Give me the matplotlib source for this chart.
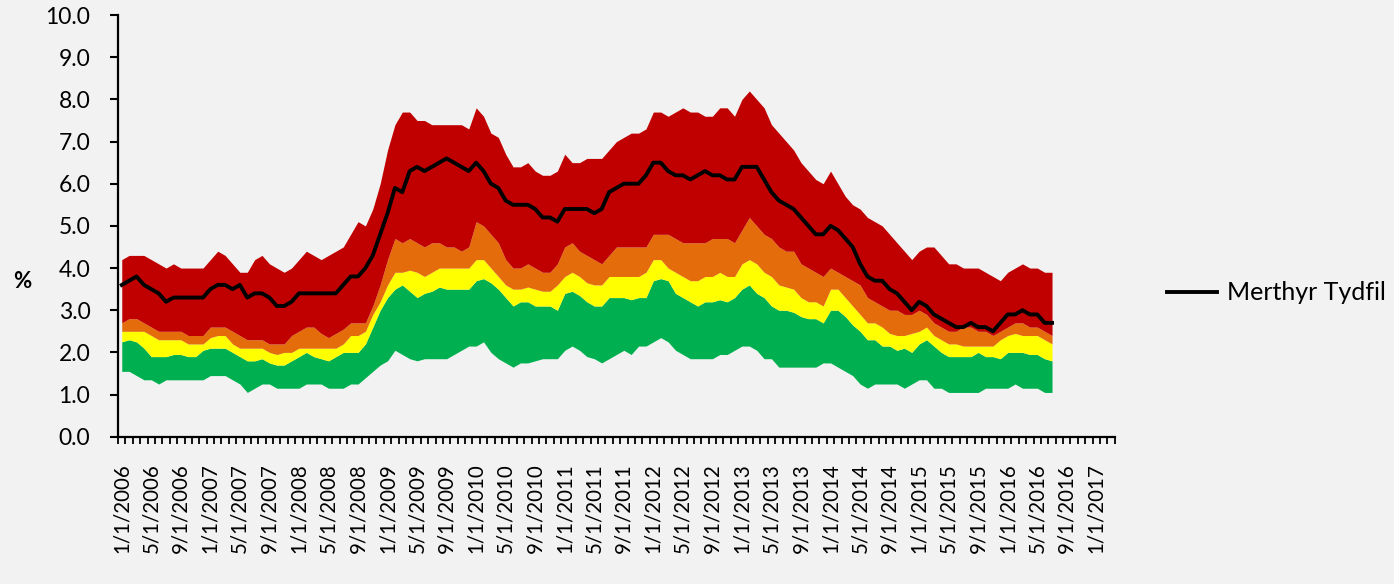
import matplotlib
matplotlib.use("Agg")
import matplotlib.pyplot as plt
import pandas as pd

plt.rcParams['font.family'] = ['Lato', 'DejaVu Sans']

# Monthly values, Jan 2006 - Jul 2016 (%)
merthyr = [3.6, 3.7, 3.8, 3.6, 3.5, 3.4, 3.2, 3.3, 3.3, 3.3, 3.3, 3.3,
           3.5, 3.6, 3.6, 3.5, 3.6, 3.3, 3.4, 3.4, 3.3, 3.1, 3.1, 3.2,
           3.4, 3.4, 3.4, 3.4, 3.4, 3.4, 3.6, 3.8, 3.8, 4.0, 4.3, 4.8,
           5.3, 5.9, 5.8, 6.3, 6.4, 6.3, 6.4, 6.5, 6.6, 6.5, 6.4, 6.3,
           6.5, 6.3, 6.0, 5.9, 5.6, 5.5, 5.5, 5.5, 5.4, 5.2, 5.2, 5.1,
           5.4, 5.4, 5.4, 5.4, 5.3, 5.4, 5.8, 5.9, 6.0, 6.0, 6.0, 6.2,
           6.5, 6.5, 6.3, 6.2, 6.2, 6.1, 6.2, 6.3, 6.2, 6.2, 6.1, 6.1,
           6.4, 6.4, 6.4, 6.1, 5.8, 5.6, 5.5, 5.4, 5.2, 5.0, 4.8, 4.8,
           5.0, 4.9, 4.7, 4.5, 4.1, 3.8, 3.7, 3.7, 3.5, 3.4, 3.2, 3.0,
           3.2, 3.1, 2.9, 2.8, 2.7, 2.6, 2.6, 2.7, 2.6, 2.6, 2.5, 2.7,
           2.9, 2.9, 3.0, 2.9, 2.9, 2.7, 2.7]

band_max = [4.2, 4.3, 4.3, 4.3, 4.2, 4.1, 4.0, 4.1, 4.0, 4.0, 4.0, 4.0,
            4.2, 4.4, 4.3, 4.1, 3.9, 3.9, 4.2, 4.3, 4.1, 4.0, 3.9, 4.0,
            4.2, 4.4, 4.3, 4.2, 4.3, 4.4, 4.5, 4.8, 5.1, 5.0, 5.4, 6.0,
            6.8, 7.4, 7.7, 7.7, 7.5, 7.5, 7.4, 7.4, 7.4, 7.4, 7.4, 7.3,
            7.8, 7.6, 7.2, 7.1, 6.7, 6.4, 6.4, 6.5, 6.3, 6.2, 6.2, 6.3,
            6.7, 6.5, 6.5, 6.6, 6.6, 6.6, 6.8, 7.0, 7.1, 7.2, 7.2, 7.3,
            7.7, 7.7, 7.6, 7.7, 7.8, 7.7, 7.7, 7.6, 7.6, 7.8, 7.8, 7.6,
            8.0, 8.2, 8.0, 7.8, 7.4, 7.2, 7.0, 6.8, 6.5, 6.3, 6.1, 6.0,
            6.3, 6.0, 5.7, 5.5, 5.4, 5.2, 5.1, 5.0, 4.8, 4.6, 4.4, 4.2,
            4.4, 4.5, 4.5, 4.3, 4.1, 4.1, 4.0, 4.0, 4.0, 3.9, 3.8, 3.7,
            3.9, 4.0, 4.1, 4.0, 4.0, 3.9, 3.9]

band_orange = [2.7, 2.8, 2.8, 2.7, 2.6, 2.5, 2.5, 2.5, 2.5, 2.4, 2.4, 2.4,
               2.6, 2.6, 2.6, 2.5, 2.4, 2.3, 2.3, 2.3, 2.2, 2.2, 2.2, 2.4,
               2.5, 2.6, 2.6, 2.45, 2.35, 2.45, 2.55, 2.7, 2.7, 2.7, 3.1, 3.6,
               4.2, 4.7, 4.6, 4.7, 4.6, 4.5, 4.6, 4.6, 4.5, 4.5, 4.4, 4.5,
               5.1, 5.0, 4.8, 4.6, 4.2, 4.0, 4.0, 4.1, 4.0, 3.9, 3.9, 4.1,
               4.5, 4.6, 4.4, 4.3, 4.2, 4.1, 4.3, 4.5, 4.5, 4.5, 4.5, 4.5,
               4.8, 4.8, 4.8, 4.7, 4.6, 4.6, 4.6, 4.6, 4.7, 4.7, 4.7, 4.6,
               4.9, 5.2, 5.0, 4.8, 4.7, 4.5, 4.4, 4.4, 4.1, 4.0, 3.9, 3.8,
               4.0, 3.9, 3.8, 3.7, 3.6, 3.3, 3.2, 3.1, 3.0, 3.0, 2.9, 2.9,
               3.0, 2.9, 2.7, 2.6, 2.5, 2.5, 2.6, 2.6, 2.5, 2.5, 2.4, 2.5,
               2.6, 2.7, 2.7, 2.6, 2.6, 2.5, 2.4]

band_yellow = [2.5, 2.5, 2.5, 2.5, 2.4, 2.3, 2.3, 2.3, 2.3, 2.2, 2.2, 2.2,
               2.35, 2.4, 2.4, 2.2, 2.1, 2.1, 2.1, 2.1, 2.0, 1.95, 2.0, 2.0,
               2.1, 2.1, 2.1, 2.1, 2.1, 2.1, 2.2, 2.4, 2.4, 2.5, 2.9, 3.2,
               3.6, 3.9, 3.9, 3.95, 3.9, 3.8, 3.9, 4.0, 4.0, 4.0, 4.0, 4.0,
               4.2, 4.2, 4.0, 3.8, 3.6, 3.5, 3.5, 3.55, 3.5, 3.45, 3.45, 3.6,
               3.8, 3.9, 3.8, 3.65, 3.6, 3.6, 3.8, 3.8, 3.8, 3.8, 3.8, 3.9,
               4.2, 4.2, 4.0, 3.9, 3.8, 3.7, 3.7, 3.8, 3.8, 3.9, 3.8, 3.8,
               4.1, 4.2, 4.1, 3.9, 3.8, 3.6, 3.55, 3.5, 3.3, 3.2, 3.2, 3.1,
               3.5, 3.5, 3.3, 3.1, 2.9, 2.7, 2.7, 2.6, 2.45, 2.4, 2.4, 2.45,
               2.5, 2.6, 2.4, 2.3, 2.2, 2.2, 2.15, 2.15, 2.15, 2.15, 2.15, 2.3,
               2.4, 2.45, 2.4, 2.4, 2.4, 2.3, 2.2]

band_green = [2.25, 2.3, 2.25, 2.1, 1.9, 1.9, 1.9, 1.95, 1.95, 1.9, 1.9, 2.05,
              2.1, 2.1, 2.1, 2.0, 1.9, 1.8, 1.8, 1.85, 1.75, 1.7, 1.7, 1.8,
              1.9, 2.0, 1.9, 1.85, 1.8, 1.9, 2.0, 2.0, 2.0, 2.2, 2.6, 3.0,
              3.3, 3.5, 3.6, 3.45, 3.3, 3.4, 3.45, 3.55, 3.5, 3.5, 3.5, 3.5,
              3.7, 3.75, 3.65, 3.5, 3.3, 3.1, 3.2, 3.2, 3.1, 3.1, 3.1, 3.0,
              3.4, 3.45, 3.35, 3.2, 3.1, 3.1, 3.3, 3.3, 3.3, 3.25, 3.3, 3.3,
              3.7, 3.75, 3.7, 3.4, 3.3, 3.2, 3.1, 3.2, 3.2, 3.25, 3.2, 3.3,
              3.5, 3.6, 3.4, 3.3, 3.1, 3.0, 3.0, 2.95, 2.85, 2.8, 2.8, 2.7,
              3.0, 3.0, 2.85, 2.65, 2.5, 2.3, 2.3, 2.15, 2.15, 2.05, 2.1, 2.0,
              2.2, 2.3, 2.15, 2.0, 1.9, 1.9, 1.9, 1.9, 2.0, 1.9, 1.9, 1.85,
              2.0, 2.0, 2.0, 1.95, 1.95, 1.85, 1.8]

band_min = [1.55, 1.55, 1.45, 1.35, 1.35, 1.25, 1.35, 1.35, 1.35, 1.35, 1.35, 1.35,
            1.45, 1.45, 1.45, 1.35, 1.25, 1.05, 1.15, 1.25, 1.25, 1.15, 1.15, 1.15,
            1.15, 1.25, 1.25, 1.25, 1.15, 1.15, 1.15, 1.25, 1.25, 1.4, 1.55, 1.7,
            1.8, 2.05, 1.95, 1.85, 1.8, 1.85, 1.85, 1.85, 1.85, 1.95, 2.05, 2.15,
            2.15, 2.25, 2.0, 1.85, 1.75, 1.65, 1.75, 1.75, 1.8, 1.85, 1.85, 1.85,
            2.05, 2.15, 2.05, 1.9, 1.85, 1.75, 1.85, 1.95, 2.05, 1.95, 2.15, 2.15,
            2.25, 2.35, 2.25, 2.05, 1.95, 1.85, 1.85, 1.85, 1.85, 1.95, 1.95, 2.05,
            2.15, 2.15, 2.05, 1.85, 1.85, 1.65, 1.65, 1.65, 1.65, 1.65, 1.65, 1.75,
            1.75, 1.65, 1.55, 1.45, 1.25, 1.15, 1.25, 1.25, 1.25, 1.25, 1.15, 1.25,
            1.35, 1.35, 1.15, 1.15, 1.05, 1.05, 1.05, 1.05, 1.05, 1.15, 1.15, 1.15,
            1.15, 1.25, 1.15, 1.15, 1.15, 1.05, 1.05]

# category axis runs Jan 2006 - Mar 2017
months = pd.date_range('2006-01-01', periods=135, freq='MS')
tick_labels = [f"{d.month}/1/{d.year}" for d in months[::4]]

x = list(range(len(merthyr)))
bg = '#f2f2f2'

fig = plt.figure(figsize=(13.94, 5.84), dpi=100, facecolor=bg)
ax = fig.add_axes([0.0847, 0.2522, 0.715, 0.722], facecolor=bg)

ax.fill_between(x, band_min, band_green, color='#00b050', lw=0)
ax.fill_between(x, band_green, band_yellow, color='#ffff00', lw=0)
ax.fill_between(x, band_yellow, band_orange, color='#e46c0a', lw=0)
ax.fill_between(x, band_orange, band_max, color='#c00000', lw=0)
ax.plot(x, merthyr, color='black', lw=2.8, label='Merthyr Tydfil')

ax.set_xlim(-0.5, len(months) - 0.5)
ax.set_ylim(0, 10)
ax.set_yticks(range(0, 11))
ax.set_yticklabels([f"{v:.1f}" for v in range(0, 11)], fontsize=16.5)
ax.set_xticks(range(0, len(months), 4))
ax.set_xticklabels(tick_labels, rotation=90, fontsize=14.8)
ax.set_xticks([i - 0.5 for i in range(len(months) + 1)], minor=True)
ax.tick_params(axis='x', which='major', length=0, pad=19)
ax.tick_params(axis='x', which='minor', length=5, width=1.3, direction='out')
ax.tick_params(axis='y', length=6, width=1.5, pad=14)

for s in ['top', 'right']:
    ax.spines[s].set_visible(False)
for s in ['left', 'bottom']:
    ax.spines[s].set_linewidth(1.6)

fig.text(22 / 1394, 1 - 281 / 584, '%', fontsize=16, fontweight='bold',
         ha='center', va='center')

ax.legend(loc='center left', bbox_to_anchor=(1.03, 0.341), frameon=False,
          fontsize=18, handlelength=2.0, handletextpad=0.4)

fig.savefig('out.png', dpi=100, facecolor=bg)
